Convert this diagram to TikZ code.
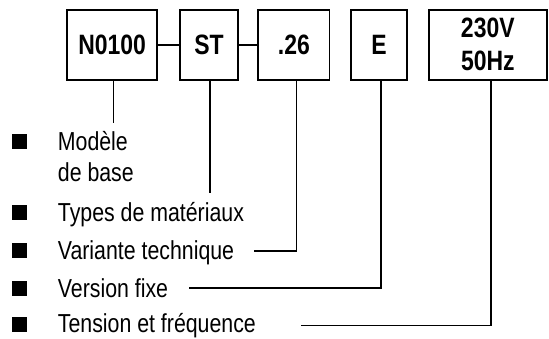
\documentclass[tikz,border=0pt]{standalone}
\usepackage{fontspec}
\setmainfont[FakeStretch=0.82]{Liberation Sans}
\begin{document}
\begin{tikzpicture}[x=1pt,y=-1pt,
  box/.style={draw, line width=1.6pt, minimum height=70pt, inner sep=0pt, anchor=north west,
    font=\fontsize{28}{33}\selectfont\bfseries},
  conn/.style={line width=1.5pt},
  bul/.style={fill=black, minimum size=15pt, inner sep=0pt},
  item/.style={anchor=base west, inner sep=0pt, font=\fontsize{26}{31}\selectfont}]
\useasboundingbox (0,0) rectangle (549,338);
% boxes
\node[box, minimum width=89.9pt] (n) at (66.4,9) {N0100};
\node[box, minimum width=57.7pt] (st) at (179.4,9) {ST};
\node[box, minimum width=71.3pt] (v) at (257.4,9) {.26};
\node[box, minimum width=55.9pt] (e) at (350.4,9) {E};
\node[box, minimum width=118pt, align=center] (hz) at (428,9) {230V\\50Hz};
\draw[conn] (n.east) -- (st.west);
\draw[conn] (st.east) -- (v.west);
% bullets
\node[bul] (b1) at (19.75,141) {};
\node[bul] (b2) at (19.75,212) {};
\node[bul] (b3) at (19.75,250) {};
\node[bul] (b4) at (19.75,288) {};
\node[bul] (b5) at (19.75,324.5) {};
% texts
\node[item] (t1) at (57.7,150.5) {Modèle};
\node[item] (t1b) at (57.7,181.5) {de base};
\node[item] (t2) at (57.7,221.5) {Types de matériaux};
\node[item] (t3) at (57.7,259.5) {Variante technique};
\node[item] (t4) at (57.7,297.5) {Version fixe};
\node[item] (t5) at (57.7,332) {Tension et fréquence};
% leader lines
\coordinate (c1) at (113.6,123);
\draw[conn] (c1 |- n.south) -- (c1);
\coordinate (c2) at (209.8,193);
\draw[conn] (c2 |- st.south) -- (c2);
\coordinate (c3) at (296.5,251);
\coordinate (c3e) at (253.5,251);
\draw[conn] (c3 |- v.south) -- (c3) -- (c3e);
\coordinate (c4) at (381.2,288);
\coordinate (c4e) at (188.8,288);
\draw[conn] (c4 |- e.south) -- (c4) -- (c4e);
\coordinate (c5) at (491,325.5);
\coordinate (c5e) at (301.4,325.5);
\draw[conn] (c5 |- hz.south) -- (c5) -- (c5e);
\end{tikzpicture}
\end{document}
